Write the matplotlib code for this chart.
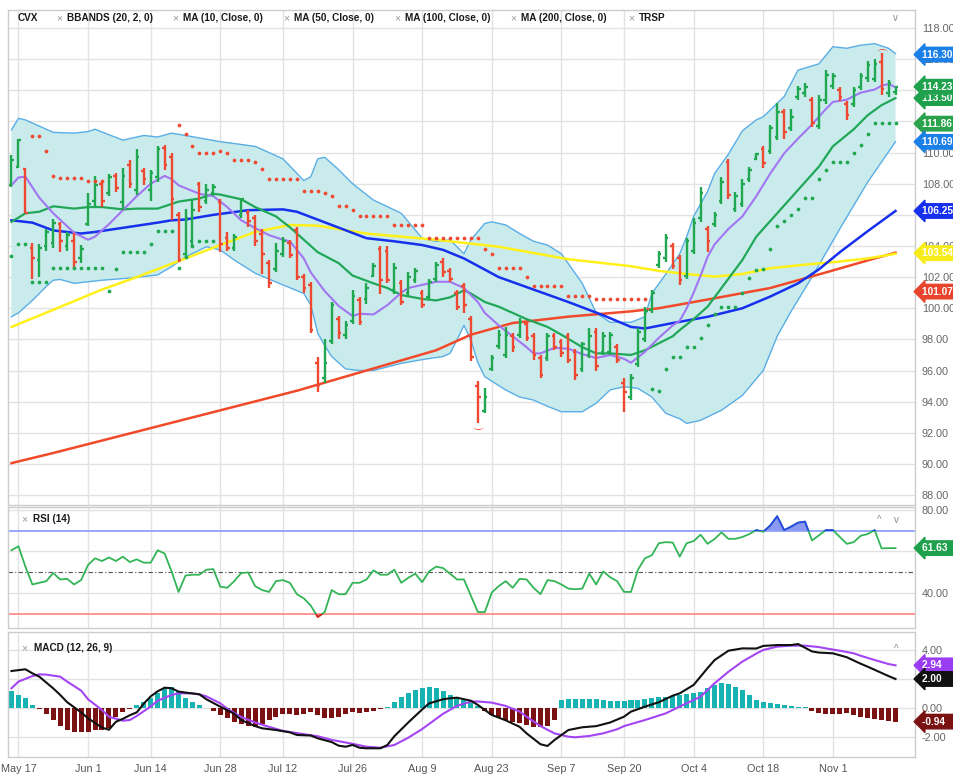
import matplotlib
matplotlib.use('Agg')
import matplotlib.pyplot as plt
import numpy as np
from matplotlib.collections import LineCollection
from matplotlib.patches import Rectangle

# ---------------- data ----------------
# bar index 0 = May 17 (2021); one session is shown before it
FIRST = -1

opens = [107.9, 109.1, 108.95, 103.9, 103.1, 104.0, 104.2, 105.4, 104.0, 104.3,
         103.2, 105.4, 106.9, 108.0, 107.4, 108.5, 106.8, 109.2, 107.6, 108.8,
         107.6, 108.4, 110.3, 109.7, 106.0, 103.5, 104.3, 108.0, 106.9, 107.4,
         106.8, 104.5, 103.9, 106.0, 106.1, 105.8, 104.8, 102.9, 102.5, 103.5,
         104.2, 105.0, 102.0, 101.5, 96.5, 95.5, 97.9, 99.3, 98.3, 99.2,
         100.5, 100.6, 102.1, 103.8, 103.7, 101.2, 101.6, 101.0, 101.8, 101.0,
         100.7, 101.9, 103.0, 102.4, 101.0, 101.4, 99.3, 95.0, 93.4, 96.1,
         97.6, 97.0, 98.2, 98.3, 99.0, 98.2, 96.8, 96.8, 98.2, 97.8,
         98.2, 97.2, 96.1, 97.0, 98.5, 97.2, 97.2, 97.5, 95.2, 94.3,
         96.4, 98.0, 99.9, 102.8, 103.2, 104.0, 103.2, 102.1, 103.7, 105.8,
         105.1, 105.4, 106.9, 109.4, 106.4, 106.7, 108.3, 109.6, 110.2, 110.1,
         111.0, 112.6, 111.6, 113.6, 113.8, 113.4, 111.7, 113.4, 114.3, 114.0,
         113.1, 113.1, 114.2, 114.8, 114.7, 115.8, 113.8, 113.9]
highs = [109.85, 110.86, 109.03, 104.19, 104.15, 105.1, 105.76, 105.55, 104.9, 104.85,
         104.05, 107.4, 108.5, 108.2, 108.6, 108.7, 109.0, 109.5, 110.2, 109.0,
         108.9, 110.4, 110.5, 109.95, 106.2, 106.4, 106.95, 108.1, 108.0, 108.0,
         107.0, 104.9, 104.8, 107.1, 106.3, 106.0, 105.1, 103.1, 104.2, 104.6,
         104.4, 105.2, 102.2, 101.7, 96.9, 98.0, 100.4, 99.5, 99.2, 101.2,
         100.7, 101.6, 102.9, 104.0, 104.0, 102.9, 101.8, 102.35, 102.6, 101.2,
         101.9, 103.0, 103.2, 102.6, 101.2, 101.6, 99.5, 95.3, 94.85, 97.0,
         98.6, 98.8, 98.4, 99.35, 99.2, 98.4, 97.0, 98.4, 98.4, 98.0,
         98.4, 97.4, 97.85, 98.7, 98.7, 98.5, 98.5, 97.7, 95.5, 95.8,
         98.7, 100.1, 101.2, 103.7, 104.8, 104.2, 103.4, 104.5, 105.8, 107.8,
         105.3, 106.2, 108.4, 109.6, 107.5, 108.3, 109.1, 110.0, 110.4, 111.8,
         113.2, 112.8, 112.8, 114.3, 114.5, 113.6, 113.7, 115.3, 115.1, 114.2,
         113.3, 114.2, 115.1, 115.9, 116.0, 116.4, 114.65, 114.3]
lows = [107.8, 108.99, 106.09, 101.9, 102.0, 103.7, 103.9, 103.6, 103.7, 102.5,
        102.9, 105.3, 106.5, 106.5, 107.2, 107.5, 106.3, 107.7, 107.3, 107.9,
        106.9, 108.1, 108.9, 105.7, 102.97, 103.3, 103.95, 106.2, 106.7, 107.2,
        103.6, 103.7, 103.7, 105.8, 105.2, 104.0, 102.2, 101.3, 102.3, 103.3,
        103.2, 101.8, 101.0, 98.4, 94.6, 95.2, 97.7, 98.0, 98.0, 99.0,
        98.9, 100.3, 102.0, 100.9, 101.6, 100.9, 100.2, 100.7, 101.6, 100.0,
        100.5, 101.7, 102.0, 101.7, 99.9, 99.7, 96.6, 92.6, 93.25, 96.0,
        97.4, 96.8, 97.2, 98.1, 97.9, 96.7, 95.5, 96.6, 97.3, 96.9,
        96.5, 95.4, 95.9, 96.8, 96.0, 97.0, 97.0, 96.5, 93.35, 94.1,
        96.2, 97.85, 99.7, 102.6, 103.0, 102.5, 101.5, 101.9, 103.5, 105.55,
        103.6, 105.2, 106.7, 107.05, 106.2, 106.5, 108.1, 109.5, 109.0, 109.9,
        110.8, 110.9, 111.4, 113.4, 113.6, 111.65, 111.5, 113.15, 114.1, 113.3,
        112.1, 112.9, 114.0, 114.55, 114.55, 113.7, 113.6, 113.7]
closes = [109.5, 110.8, 106.15, 103.2, 103.9, 104.9, 105.5, 104.3, 104.7, 103.0,
          103.8, 106.7, 107.9, 106.9, 108.4, 107.7, 108.5, 108.0, 109.7, 108.3,
          108.7, 110.2, 109.2, 107.0, 103.1, 105.8, 106.3, 106.5, 107.6, 107.8,
          104.1, 103.9, 104.6, 107.0, 105.6, 104.3, 103.5, 101.6, 103.7, 104.3,
          103.4, 102.0, 101.3, 98.6, 95.1, 96.5, 100.2, 98.4, 98.9, 100.8,
          99.1, 101.3, 102.7, 101.8, 101.8, 102.6, 100.4, 102.0, 102.4, 100.2,
          101.7, 102.8, 102.3, 101.9, 100.1, 100.2, 96.9, 94.3, 94.3, 96.8,
          98.3, 98.3, 97.5, 99.1, 98.1, 97.0, 95.7, 98.2, 97.5, 97.1,
          96.7, 95.7, 97.7, 98.2, 96.3, 98.2, 98.3, 96.7, 94.6, 95.5,
          98.5, 99.8, 101.0, 103.5, 104.5, 102.7, 101.8, 104.3, 105.5, 107.4,
          104.3, 106.0, 108.1, 107.3, 107.2, 108.0, 108.9, 109.9, 109.3, 111.6,
          112.6, 111.3, 112.3, 114.1, 114.2, 111.9, 113.4, 115.0, 114.9, 113.6,
          112.4, 114.0, 114.9, 115.6, 115.7, 114.1, 114.5, 114.23]

# Bollinger bands (20, 2)
bb_up_x = [-1, 0, 1, 3, 5, 8, 10, 11, 13, 15, 16, 18, 20, 22, 24, 29, 34, 38, 41, 42,
           43, 44, 46, 48, 51, 55, 58, 60, 62, 64, 65, 67, 68, 70, 72, 74, 76, 78, 81, 83,
           85, 88, 90, 91, 93, 95, 96, 97, 99, 100, 102, 104, 106, 107, 110, 112, 115, 117, 119, 121,
           123, 125, 126]
bb_up = [111.46, 112.2, 112.1, 111.7, 111.3, 111.25, 111.35, 111.5, 111.15, 110.8,
         110.9, 111.1, 111.0, 111.25, 111.1, 110.7, 110.4, 109.6, 108.2, 108.45,
         109.6, 109.7, 108.9, 108.0, 106.95, 106.1, 104.5, 104.3, 104.4, 103.5,
         104.4, 105.45, 105.55, 105.35, 104.8, 104.3, 104.06, 103.5, 101.6, 99.7,
         99.1, 99.1, 99.45, 100.95, 102.2, 103.5, 104.6, 105.9, 107.5, 108.65,
         109.9, 111.4, 112.1, 112.3, 113.6, 115.3, 115.7, 116.8, 116.7, 116.9,
         117.0, 116.7, 116.36]
bb_mid_x = [-1, 1, 3, 5, 8, 10, 12, 15, 17, 20, 22, 23, 26, 28, 29, 32, 34, 37, 39, 41,
            43, 46, 48, 51, 53, 55, 58, 60, 62, 64, 65, 67, 69, 71, 73, 76, 78, 81, 83, 85,
            88, 90, 92, 94, 95, 97, 99, 101, 104, 106, 109, 112, 115, 117, 120, 122, 124, 126]
bb_mid = [105.55, 106.1, 106.2, 106.55, 106.4, 106.5, 106.5, 106.35, 106.4, 106.4,
          106.7, 106.85, 107.05, 107.35, 107.3, 107.0, 106.5, 105.9, 105.2, 104.4,
          103.6, 102.9, 102.1, 101.6, 101.3, 100.85, 100.6, 100.5, 100.7, 101.15,
          100.95, 100.4, 100.1, 99.7, 99.3, 98.8, 98.3, 97.5, 97.1, 97.1,
          97.0, 97.3, 97.75, 98.2, 98.6, 99.3, 100.1, 101.3, 103.1, 104.6,
          106.1, 107.6, 109.1, 110.4, 111.5, 112.4, 113.05, 113.5]
bb_lo_x = [-1, 0, 2, 4, 5, 6, 8, 12, 16, 20, 22, 24, 27, 29, 31, 34, 38, 41, 42, 43,
           44, 45, 47, 49, 51, 55, 58, 61, 62, 63, 64, 65, 66, 67, 70, 72, 74, 76, 78, 81,
           83, 85, 87, 89, 91, 93, 95, 96, 98, 101, 104, 107, 109, 111, 114, 118, 122, 126]
bb_lo = [99.46, 99.7, 100.5, 101.4, 101.8, 101.85, 101.6, 101.8, 101.94, 102.14,
         102.67, 103.3, 103.95, 103.74, 103.1, 102.25, 101.5, 100.95, 100.2, 98.4,
         97.6, 96.9, 96.1, 96.0, 96.0, 96.46, 96.7, 96.9, 97.1, 97.96,
         98.9, 97.96, 96.5, 95.6, 94.75, 94.3, 94.1, 93.7, 93.35, 93.35,
         93.9, 94.75, 94.96, 94.85, 94.3, 93.25, 92.9, 92.6, 92.8, 93.45,
         94.4, 96.0, 98.2, 99.8, 102.0, 105.1, 108.1, 110.7]

# moving averages
ma10_x = [-1, 0, 1, 3, 5, 8, 10, 11, 13, 15, 17, 19, 21, 22, 23, 26, 28, 30, 32, 34,
          36, 38, 39, 41, 42, 44, 46, 48, 49, 51, 53, 55, 56, 58, 60, 62, 64, 66, 67, 69,
          71, 73, 74, 75, 77, 79, 81, 83, 85, 87, 88, 90, 92, 94, 95, 96, 97, 98, 99, 100,
          102, 104, 106, 108, 110, 112, 114, 116, 117, 119, 121, 123, 124, 125, 126]
ma10 = [107.9, 108.4, 108.45, 107.1, 106.1, 104.85, 104.4, 104.6, 105.4, 106.3,
        107.2, 108.0, 108.5, 108.3, 107.9, 107.35, 107.2, 106.5, 105.65, 105.15,
        104.7, 104.4, 104.3, 103.2, 102.3, 101.1, 100.15, 99.5, 99.65, 99.6,
        100.2, 101.0, 101.3, 101.5, 101.7, 101.7, 101.3, 100.4, 99.7, 98.9,
        98.2, 97.5, 97.1, 97.1, 97.45, 97.4, 97.05, 96.8, 97.0, 96.75,
        96.5, 97.2, 98.1, 98.9, 99.2, 100.0, 101.0, 102.1, 103.3, 104.1,
        105.1, 105.9, 107.2, 108.65, 109.95, 110.9, 111.8, 112.8, 113.25, 113.4,
        113.85, 114.05, 114.3, 114.4, 114.2]
ma50_x = [-1, 2, 5, 9, 11, 14, 17, 20, 22, 24, 28, 33, 38, 40, 45, 50, 54, 58, 61, 64,
          69, 74, 79, 84, 88, 90, 94, 99, 104, 108, 112, 115, 118, 122, 124, 126]
ma50 = [105.65, 105.5, 105.0, 104.8, 104.9, 105.1, 105.3, 105.5, 105.65, 105.7,
        106.0, 106.3, 106.35, 106.2, 105.35, 104.5, 104.3, 104.06, 103.75, 103.2,
        102.0, 101.2, 100.4, 99.55, 98.8, 98.7, 99.05, 99.45, 100.0, 100.75,
        101.6, 102.5, 103.6, 104.95, 105.6, 106.25]
ma100_x = [-1, 5, 12, 17, 24, 29, 34, 39, 43, 50, 60, 69, 79, 88, 92, 96, 100, 104, 108, 113,
           118, 122, 126]
ma100 = [98.8, 99.9, 101.2, 102.0, 103.2, 104.06, 104.9, 105.35, 105.3, 104.8,
         104.4, 103.95, 103.15, 102.7, 102.4, 102.2, 102.03, 102.2, 102.57, 102.8,
         103.0, 103.2, 103.5]
ma200_x = [-1, 5, 12, 19, 26, 33, 40, 45, 50, 55, 60, 65, 71, 79, 88, 92, 100, 108, 116, 123, 126]
ma200 = [90.05, 90.7, 91.5, 92.3, 93.1, 93.9, 94.7, 95.35, 96.0, 96.65,
         97.3, 98.3, 99.05, 99.46, 99.8, 100.0, 100.64, 101.3, 102.3, 103.2, 103.57]

# TRSP stop dots: (first bar index, values)
trsp_long = [(-1, [103.35, 104.13, 104.13, 101.7, 101.7, 101.7, 102.56, 102.56, 102.56, 102.56,
                   102.56, 102.56, 102.56, 102.56, 101.13, 102.5, 103.6, 103.6, 103.6, 103.6,
                   104.13, 104.96, 104.96, 104.96, 102.6, 103.27, 104.0, 104.3, 104.3, 104.3]),
             (91, [94.8, 94.7, 96.1, 96.9, 96.9, 97.5, 97.5, 98.1, 98.9, 99.66,
                   100.1, 100.1, 100.1, 101.0, 101.95, 102.45, 102.5, 103.8, 105.3, 105.6,
                   106.0, 106.4, 107.1, 107.1, 108.3, 108.9, 109.4, 109.4, 109.4, 110.0,
                   110.5, 111.2, 111.87, 111.87, 111.87, 111.87])]
trsp_short = [(2, [111.06, 111.06, 110.1, 108.5, 108.35, 108.35, 108.35, 108.35, 108.2, 108.2, 108.2]),
              (23, [111.77, 111.2, 110.4, 109.95, 109.95, 109.95, 110.1, 109.95, 109.5, 109.5,
                    109.5, 109.4, 108.95, 108.28, 108.28, 108.28, 108.28, 108.28, 107.55, 107.55,
                    107.55, 107.4, 107.2, 106.6, 106.6, 106.3, 105.9, 105.9, 105.9, 105.9,
                    105.9, 105.35, 105.35, 105.35, 105.35, 105.35, 104.5, 104.5, 104.5, 104.5,
                    104.5, 104.5, 104.5, 104.5, 103.8, 103.5, 102.6, 102.6, 102.6, 102.6,
                    102.0, 101.4, 101.4, 101.4, 101.4, 101.4, 100.8, 100.8, 100.8, 100.8,
                    100.6, 100.6, 100.6, 100.6, 100.6, 100.6, 100.6, 100.6])]

# RSI (14)
rsi = [60.6, 62.5, 52.7, 44.1, 44.9, 45.7, 49.6, 46.5, 46.8, 44.1,
       46.2, 53.5, 56.7, 55.4, 57.1, 55.4, 57.5, 54.9, 56.2, 54.6,
       54.6, 60.6, 59.0, 50.4, 40.5, 48.4, 48.8, 48.8, 51.2, 51.5,
       43.0, 42.5, 45.7, 49.6, 49.9, 43.3, 41.4, 40.5, 45.7, 46.2,
       44.9, 39.4, 37.4, 33.9, 28.4, 30.8, 41.4, 39.4, 39.4, 44.9,
       44.9, 46.5, 50.9, 48.8, 48.8, 51.2, 44.9, 47.3, 49.3, 45.2,
       50.4, 52.7, 52.0, 49.3, 46.5, 46.5, 38.6, 30.8, 30.8, 40.2,
       43.3, 45.7, 42.5, 46.8, 46.5, 42.5, 39.4, 46.2, 45.7, 44.1,
       42.1, 41.8, 42.1, 49.3, 44.1, 50.4, 47.6, 45.7, 40.5, 40.5,
       51.2, 56.7, 58.2, 64.0, 64.5, 64.3, 57.5, 64.0, 65.0, 68.1,
       63.7, 66.0, 69.2, 66.1, 66.1, 67.0, 68.4, 70.3, 69.5, 72.5,
       77.0, 70.3, 72.0, 73.9, 74.4, 65.3, 67.8, 70.3, 70.3, 67.0,
       63.7, 64.5, 67.6, 68.4, 70.3, 61.5, 61.6, 61.63]

# MACD (12, 26, 9)
macd_x = [-1, 1, 2, 3, 5, 6, 7, 9, 10, 12, 13, 14, 15, 16, 17, 18, 19, 20, 21, 22,
          23, 25, 26, 27, 29, 31, 32, 34, 35, 37, 39, 40, 42, 43, 45, 46, 47, 48, 49, 50,
          52, 53, 54, 56, 58, 59, 61, 62, 63, 65, 66, 68, 70, 72, 73, 75, 76, 77, 79, 81,
          83, 85, 87, 88, 90, 92, 94, 95, 97, 99, 100, 102, 104, 106, 107, 109, 111, 112, 114, 115,
          117, 119, 121, 122, 125, 126]
macd = [2.55, 2.67, 2.39, 2.16, 1.35, 0.90, 0.40, -0.30, -0.71, -1.35,
        -1.50, -0.95, -0.75, -0.50, -0.30, 0.30, 0.80, 1.15, 1.40, 1.36,
        1.13, 1.00, 0.94, 0.60, 0.09, -0.40, -0.83, -1.25, -1.40, -1.52,
        -1.68, -1.86, -1.90, -2.09, -2.35, -2.60, -2.67, -2.55, -2.74, -2.78,
        -2.78, -2.55, -1.95, -1.00, -0.10, 0.32, 0.60, 0.67, 0.71, 0.50,
        0.21, -0.48, -0.85, -1.30, -1.75, -2.50, -2.62, -2.21, -1.52, -1.33,
        -1.25, -1.00, -0.60, -0.25, 0.09, 0.40, 0.85, 1.01, 1.59, 2.75,
        3.30, 3.95, 4.11, 4.10, 4.28, 4.34, 4.34, 4.41, 3.90, 3.82,
        3.77, 3.50, 3.05, 2.85, 2.20, 2.00]
signal_x = [-1, 0, 2, 3, 4, 6, 7, 9, 10, 12, 13, 15, 16, 17, 19, 20, 22, 23, 25, 26,
            27, 29, 30, 32, 34, 36, 38, 40, 43, 45, 48, 50, 52, 54, 56, 58, 60, 61, 63, 65,
            66, 68, 70, 72, 73, 75, 77, 79, 80, 82, 84, 86, 87, 90, 93, 95, 98, 100, 102, 104,
            106, 107, 109, 111, 113, 115, 116, 118, 120, 121, 123, 125, 126]
signal = [1.36, 1.82, 2.20, 2.32, 2.30, 2.16, 1.82, 1.20, 0.60, -0.14,
          -0.60, -0.88, -0.83, -0.55, 0.10, 0.50, 0.90, 1.01, 1.01, 0.94,
          0.80, 0.32, -0.05, -0.62, -1.00, -1.30, -1.58, -1.73, -1.95, -2.20,
          -2.47, -2.67, -2.74, -2.55, -2.05, -1.45, -0.75, -0.40, 0.15, 0.44,
          0.45, 0.37, 0.14, -0.25, -0.60, -1.25, -1.75, -1.98, -2.02, -1.93,
          -1.75, -1.47, -1.25, -0.83, -0.37, 0.10, 0.78, 1.70, 2.50, 3.20,
          3.75, 4.00, 4.23, 4.30, 4.30, 4.20, 4.11, 3.95, 3.77, 3.60,
          3.31, 3.03, 2.94]
hist = [1.17, 0.90, 0.71, 0.21, -0.05, -0.44, -0.83, -1.22, -1.52, -1.63,
        -1.68, -1.68, -1.52, -1.52, -1.40, -0.60, -0.25, -0.07, 0.21, 0.44,
        0.71, 1.01, 1.36, 1.47, 1.17, 0.67, 0.44, 0.21, 0.02, -0.21,
        -0.48, -0.71, -0.99, -1.13, -1.22, -1.29, -1.13, -0.83, -0.60, -0.44,
        -0.44, -0.48, -0.44, -0.25, -0.48, -0.67, -0.71, -0.60, -0.44, -0.30,
        -0.37, -0.30, -0.21, -0.07, 0.09, 0.44, 0.78, 1.01, 1.24, 1.36,
        1.47, 1.36, 1.17, 0.90, 0.71, 0.55, 0.32, 0.16, -0.21, -0.45,
        -0.65, -0.80, -0.94, -1.06, -1.17, -1.29, -1.33, -1.25, -0.80, 0.55,
        0.60, 0.60, 0.60, 0.60, 0.60, 0.55, 0.51, 0.51, 0.48, 0.55,
        0.55, 0.60, 0.67, 0.74, 0.78, 0.83, 0.90, 0.97, 1.01, 1.13,
        1.36, 1.59, 1.70, 1.66, 1.47, 1.24, 0.90, 0.55, 0.44, 0.32,
        0.28, 0.20, 0.14, 0.09, 0.09, -0.18, -0.37, -0.41, -0.41, -0.41,
        -0.37, -0.48, -0.64, -0.71, -0.78, -0.83, -0.87, -0.94]

date_pos = [0, 10, 19, 29, 38, 48, 58, 68, 78, 87, 97, 107, 117]
date_labels = ['May 17', 'Jun 1', 'Jun 14', 'Jun 28', 'Jul 12', 'Jul 26', 'Aug 9',
               'Aug 23', 'Sep 7', 'Sep 20', 'Oct 4', 'Oct 18', 'Nov 1']

# right-hand value tags: (value, text, box colour)
price_tags = [(116.30, '116.30', '#1a7fe6'), (113.50, '113.50', '#1ea04c'),
              (114.23, '114.23', '#1ea04c'), (111.86, '111.86', '#2aa24a'),
              (110.69, '110.69', '#1a7fe6'), (106.25, '106.25', '#1630ee'),
              (103.54, '103.54', '#f7ec1a'), (101.07, '101.07', '#e8432c')]

# ---------------- styling ----------------
GREEN = '#1fa84f'
RED = '#ee4a32'
W, H = 954, 780


def fx(px):
    return px / W


def fy(py):
    return 1 - py / H


plt.rcParams['font.family'] = ['Liberation Sans', 'DejaVu Sans']
fig = plt.figure(figsize=(W / 100, H / 100), dpi=100)
fig.patch.set_facecolor('white')

L, R = 8, 915
ax = fig.add_axes([fx(L), fy(505), fx(R) - fx(L), fy(10) - fy(505)])
ax_rsi = fig.add_axes([fx(L), fy(628), fx(R) - fx(L), fy(507) - fy(628)], sharex=ax)
ax_macd = fig.add_axes([fx(L), fy(757), fx(R) - fx(L), fy(632) - fy(757)], sharex=ax)


def style(a, ticks, fmt):
    for s in a.spines.values():
        s.set_color('#cccccc')
        s.set_linewidth(1)
    a.yaxis.tick_right()
    a.set_yticks(ticks)
    a.set_yticklabels([fmt % t for t in ticks])
    a.tick_params(axis='y', length=0, pad=5, labelsize=7.8, labelcolor='#666666')
    a.tick_params(axis='x', length=0, labelbottom=False)
    a.set_xticks(date_pos)
    a.grid(True, color='#e2e2e2', lw=1)
    a.set_axisbelow(True)


style(ax, list(range(88, 119, 2)), '%.2f')
style(ax_rsi, [40, 60, 80], '%.2f')
style(ax_macd, [-2, 0, 2, 4], '%.2f')
ax.set_xlim(-1.5, 128.8)
ax.set_ylim(87.36, 119.16)
ax_rsi.set_ylim(23.1, 81.45)
ax_macd.set_ylim(-3.38, 5.24)
ax_macd.tick_params(axis='x', labelbottom=True, labelsize=7.8, labelcolor='#555555', pad=5)
ax_macd.set_xticklabels(date_labels)

x = np.arange(FIRST, FIRST + len(closes))

# ---- price panel ----
ax.fill(bb_up_x + bb_lo_x[::-1], bb_up + bb_lo[::-1], color='#caebec', lw=0, zorder=1)
ax.plot(bb_up_x, bb_up, color='#5aaee6', lw=1, zorder=2)
ax.plot(bb_lo_x, bb_lo, color='#5aaee6', lw=1, zorder=2)
ax.plot(ma200_x, ma200, color='#f04a2a', lw=1.8, zorder=3)
ax.plot(ma100_x, ma100, color='#fff01a', lw=1.8, zorder=3)
ax.plot(ma50_x, ma50, color='#1630ee', lw=1.8, zorder=3)
ax.plot(bb_mid_x, bb_mid, color='#20a858', lw=1.6, zorder=3)
ax.plot(ma10_x, ma10, color='#a276f2', lw=1.5, zorder=3)

segs, cols = [], []
for xi, o, h, l, c in zip(x, opens, highs, lows, closes):
    col = GREEN if c >= o else RED
    segs += [[(xi, l), (xi, h)], [(xi - 0.38, o), (xi, o)], [(xi, c), (xi + 0.38, c)]]
    cols += [col] * 3
ax.add_collection(LineCollection(segs, colors=cols, linewidths=1.7, zorder=4))

for start, vals in trsp_long:
    ax.plot(np.arange(start, start + len(vals)), vals, 'o', color=GREEN, ms=2.7, mew=0, zorder=5)
for start, vals in trsp_short:
    ax.plot(np.arange(start, start + len(vals)), vals, 'o', color=RED, ms=2.7, mew=0, zorder=5)

# swing markers under the Aug low and over the Nov high
ax.text(66, lows[66 - FIRST] - 0.25, r'$\smile$', color=RED, ha='center', va='center', fontsize=8, zorder=6)
ax.text(124, highs[124 - FIRST] + 0.3, r'$\frown$', color=RED, ha='center', va='center', fontsize=8, zorder=6)


def tag(a, yv, text, fc, tc='white'):
    # box runs off the right edge of the picture, as in the source chart
    a.annotate(text + '    ', xy=(1, yv), xycoords=('axes fraction', 'data'), xytext=(5, 0),
               textcoords='offset points', ha='left', va='center', fontsize=7.3,
               fontweight='bold', color=tc, annotation_clip=False, zorder=10,
               bbox=dict(boxstyle='larrow,pad=0.22', fc=fc, ec=fc))


for v, t, fc in price_tags:
    tag(ax, v, t, fc)

# ---- RSI panel ----
rsi_arr = np.array(rsi)
ax_rsi.axhline(70, color='#8fa0fb', lw=1.3)
ax_rsi.axhline(30, color='#ff8c8c', lw=1.3)
ax_rsi.axhline(50, color='#555555', lw=0.8, ls=(0, (4, 2, 1, 2)))
ax_rsi.fill_between(x, rsi_arr, 70, where=rsi_arr > 70, interpolate=True, color='#6677ee', alpha=0.75, lw=0)
ax_rsi.fill_between(x, rsi_arr, 30, where=rsi_arr < 30, interpolate=True, color='#ff5555', alpha=0.75, lw=0)
ax_rsi.plot(x, rsi_arr, color='#33b557', lw=1.3)
hi_line, = ax_rsi.plot(x, rsi_arr, color='#2a44ee', lw=1.3)
hi_line.set_clip_path(Rectangle((-5, 70), 200, 50, transform=ax_rsi.transData))
lo_line, = ax_rsi.plot(x, rsi_arr, color='#ee2222', lw=1.3)
lo_line.set_clip_path(Rectangle((-5, 0), 200, 30, transform=ax_rsi.transData))
tag(ax_rsi, 61.63, '61.63', '#1ea04c')

# ---- MACD panel ----
hist_arr = np.array(hist)
ax_macd.bar(x, hist_arr, width=0.72, color=np.where(hist_arr >= 0, '#17b3b3', '#7a1212'), zorder=2)
ax_macd.plot(signal_x, signal, color='#a445f5', lw=1.5, zorder=3)
ax_macd.plot(macd_x, macd, color='#111111', lw=1.5, zorder=3)
tag(ax_macd, 2.94, '2.94', '#9b3cf5')
tag(ax_macd, 2.00, '2.00', '#111111')
tag(ax_macd, -0.94, '-0.94', '#7a1212')

# ---- panel headers ----
hdr = dict(fontsize=7.2, fontweight='bold', va='center', color='#1a1a1a')
xmark = dict(fontsize=7.5, va='center', color='#999999')
fig.text(fx(18), fy(18), 'CVX', **hdr)
for px, name in [(56, 'BBANDS (20, 2, 0)'), (172, 'MA (10, Close, 0)'),
                 (283, 'MA (50, Close, 0)'), (394, 'MA (100, Close, 0)'),
                 (510, 'MA (200, Close, 0)'), (628, 'TRSP')]:
    fig.text(fx(px), fy(18), '×', **xmark)
    fig.text(fx(px + 11), fy(18), name, **hdr)
fig.text(fx(893), fy(18), 'v', fontsize=7, va='center', color='#888888')

fig.text(fx(21), fy(519), '×', **xmark)
fig.text(fx(33), fy(519), 'RSI (14)', **hdr)
fig.text(fx(877), fy(520), '^', fontsize=7, va='center', color='#888888')
fig.text(fx(894), fy(520), 'v', fontsize=7, va='center', color='#888888')

fig.text(fx(21), fy(648), '×', **xmark)
fig.text(fx(34), fy(648), 'MACD (12, 26, 9)', **hdr)
fig.text(fx(894), fy(649), '^', fontsize=7, va='center', color='#888888')

fig.savefig('out.png', dpi=100, facecolor='white')
